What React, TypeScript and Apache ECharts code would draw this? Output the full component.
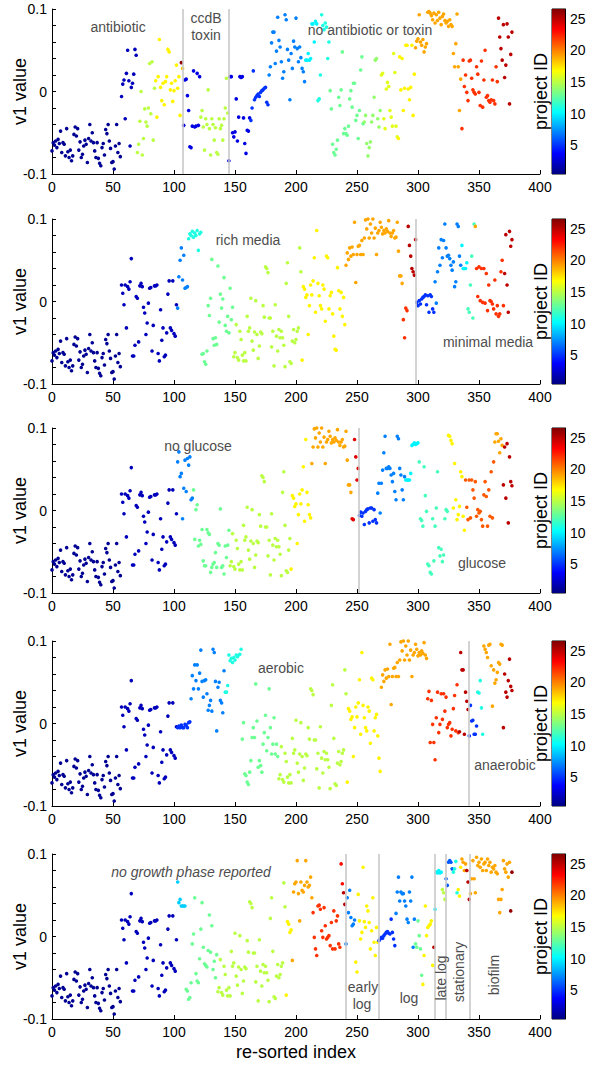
import React, { useEffect, useRef } from 'react';
import * as echarts from 'echarts';

// ---------- shared project samples (v1 values, in index order) ----------
const P1 = [-0.072,-0.062,-0.065,-0.060,-0.068,-0.058,-0.063,-0.048,-0.074,-0.062,-0.064,-0.078,-0.045,-0.073,-0.080,-0.071,-0.084,-0.078,-0.052,-0.043,-0.054,-0.045,-0.071,-0.061,-0.080,-0.076,-0.066,-0.059,-0.064,-0.086,-0.057,-0.040,-0.060,-0.050,-0.062,-0.072,-0.080,-0.062,-0.081,-0.087,-0.090,-0.068,-0.063,-0.077,-0.046,-0.051,-0.040,-0.060,-0.069,-0.086,-0.085,-0.094,-0.066,-0.040,-0.074,-0.063,-0.079];
const P2 = [0.020,0.010,-0.004,0.020,-0.032,0.018,0.015,0.024,0.052,-0.066,-0.066,-0.053,0.006,0.004,-0.049,0.019,0.022,0.018,-0.007,-0.014,-0.040,-0.026,-0.002,0.016,0.017,-0.060,-0.029,0.019,0.019,0.020,-0.063,-0.072,-0.010,-0.047,-0.032,-0.067,-0.065,-0.038,0.009,0.025,-0.032,-0.035,0.025,-0.039,-0.042,-0.004];
const G14 = [-0.067,-0.062,-0.028,-0.068,-0.071,-0.036,-0.046,-0.065,-0.072,-0.062,-0.072,-0.018,-0.036,-0.032,0.004,-0.048,-0.059,-0.037,0.001,-0.040,-0.069,-0.054,-0.037,-0.039,-0.005,-0.019,0.042,0.040,0.035,-0.020,-0.020,-0.055,-0.036,-0.078,-0.004,-0.042,-0.060,-0.034,-0.044,-0.036,-0.044,-0.053,-0.079,0.022,0.047,-0.018,-0.073,-0.075,-0.048,-0.034,-0.050,-0.046,-0.036,-0.032,0.065,0.036];
const Y16 = [-0.071,0.018,0.015,0.005,0.008,-0.040,-0.005,0.020,0.008,0.025,0.053,-0.013,0.086,0.022,0.007,-0.005,-0.009,0.020,0.015,-0.024,0.055,0.053,-0.009,0.007,0.011,-0.015,-0.042,-0.058,-0.059,0.041,0.013,-0.009,0.011,-0.018,0.005,-0.028,0.029,0.005,0.009,-0.028,0.059,-0.011,0.008,0.007,-0.030,-0.028];
const O19 = [0.044,0.059,0.051,0.065,0.055,0.066,0.057,0.096,0.023,0.057,0.067,0.068,0.057,0.074,0.057,0.077,0.099,0.088,0.100,0.077,0.094,0.083,0.100,0.077,0.089,0.057,0.083,0.086,0.096,0.090,0.082,0.086,0.083,0.088,0.085,0.098,0.083,0.079,0.083,0.086,0.077,0.078,0.096,0.061,0.031,0.031,0.022];

// ---------- panel 1: antibiotic / ccdB toxin / none ----------
const A2 = [-0.006,0.009,0.014,-0.033,0.022,0.050,0.013,-0.066,0.005,0.010,0.021,0.051,0.044];
const A14 = [-0.074,-0.064,-0.036,0.000,-0.077,-0.057,-0.021,-0.037,-0.042,-0.020,0.034,-0.027,0.036,-0.059,0.004];
const A16 = [0.013,-0.031,0.018,0.063,0.005,-0.011,0.010,-0.016,0.012,0.018,0.051,0.048,0.002,0.010,-0.012,0.001,0.013,0.032,0.004,0.018,-0.029];
const A26 = [0.035];
const A18 = [0.028];
const B3 = [-0.041,0.014,0.015,-0.005,-0.023,-0.067,-0.068,-0.042,0.025,-0.043,-0.042,0.022,-0.041,0.018];
const B15 = [-0.031,-0.023,-0.043,-0.071,-0.033,-0.040,0.002,-0.045,-0.077,-0.033,-0.040,-0.059,-0.044,-0.074,-0.076,-0.033,-0.045,-0.041,-0.059,-0.033,-0.020,0.016,-0.026];
const C3 = [-0.084,0.018,0.018,-0.050,-0.055,-0.049,-0.009,-0.060,-0.031,0.018,0.017,0.018,-0.032,-0.063,-0.075,-0.047,-0.048,-0.032];
const C4 = [-0.035,-0.020,0.025,-0.010,-0.007,-0.005,-0.003,-0.006,-0.001,0.001,0.002,0.004,0.005,-0.013,-0.016];
const C6 = [0.020,0.030,0.059,0.072,0.072,0.034,0.049,0.090,0.062,0.054,0.036,0.016,0.024,0.093,0.087,0.051,0.038,-0.010,0.046,0.028,0.061,0.054,0.089,0.052,0.036,0.054,0.041,0.028,0.024,0.012];
const C9 = [0.038,0.038,0.046,0.038,0.040,0.082,0.082,0.060,0.085,0.082];
const C11 = [-0.011,-0.009,0.020,0.093,0.080,0.075,0.083,0.078,0.040,0.060];
const C12 = [0.001,-0.021,-0.064,-0.074,-0.077,-0.070,-0.059,-0.007,-0.017,0.002,0.048,-0.051,-0.045,-0.051,-0.053,-0.042,-0.009,0.001,-0.019,0.010,0.010,-0.035,-0.029,-0.057,-0.023,0.026,0.042,-0.039];
const C14 = [-0.037,-0.029,-0.063,-0.078,-0.068,-0.061,-0.037,-0.029,-0.007,0.038,0.040,-0.033,-0.043,-0.023];
const C16 = [0.020,0.022,-0.033,-0.045,0.003,0.011,0.006,-0.023,-0.031,-0.042,0.046,0.023,-0.042,-0.055];
const C17 = [-0.057,0.042,0.002,0.040,-0.023,0.004,0.056,0.056,0.003,-0.010,0.005,0.056,-0.029,0.021];
const C19 = [0.053,0.061,0.064,0.093,0.060,0.056,0.063,0.048,0.054,0.058,0.096,0.097,0.095,0.092,0.087,0.095,0.083,0.093,0.086,0.096,0.089,0.081,0.091,0.094,0.086,0.083,0.085,0.079,0.087,0.081,0.079,0.046,0.030,0.058,0.094,0.030,-0.023,0.015];
const C21 = [-0.045,0.038,0.006,0.020,-0.001,-0.011,0.037,0.038,0.016,0.002,-0.001,-0.003,0.030,0.021,-0.001,-0.017,0.037,-0.019,0.014,0.050,-0.007,-0.005,-0.011,-0.013,-0.010,0.014,-0.011,-0.015,0.030,0.012];
const C25 = [0.089,0.066,0.052,0.038,0.081,0.017,0.032,0.082,0.066,-0.015,0.045,0.072];

// ---------- panel 2: rich / minimal media ----------
const R6 = [-0.008,0.030,0.050,0.065,0.026,0.056,0.016,0.017,0.018];
const R10 = [0.076,0.082,0.080,0.085,0.078,0.083,0.080,0.086,0.062,0.082,0.084];
const R12 = [-0.064,-0.063,-0.073,-0.076,-0.060,-0.005,-0.017,0.004,0.051,-0.045,-0.053,-0.044,-0.052,0.043,-0.025,0.009,-0.008,0.003,0.029,-0.029,-0.036,-0.018,-0.038,0.016,-0.022,-0.007];
const R22 = [-0.022,-0.044,-0.008,-0.011];
const R25 = [0.091,0.068,0.055,0.040,0.036,0.032,0.075];
const M4 = [-0.001,-0.005,0.001,-0.003,0.003,0.005,0.006,0.008,-0.004,0.007,-0.013,0.008,0.006,-0.009,-0.013];
const M6 = [0.024,-0.002,0.036,0.065,0.044,0.075,0.053,0.074,0.094,0.065,0.055,0.056,0.052,0.044,0.038,0.048,0.018,0.024,0.094,0.091,0.055,0.044];
const M9 = [0.068,0.040,0.040,0.040,0.047];
const M12 = [-0.009,-0.013,0.020,0.055,-0.020,0.094];
const M19 = [0.091];
const M21 = [0.040,0.006,0.042,0.001,0.040,-0.001,0.040,-0.002,0.034,-0.011,0.020,0.001,0.000,-0.003,-0.009,0.026,-0.015,-0.005,-0.018,-0.015,0.036,0.050,-0.005];
const M25 = [0.034,0.081,0.020,-0.013,0.085,0.067,0.075];

// ---------- panel 3: no glucose / glucose ----------
const N6 = [0.059,0.071,0.041,0.045,-0.010,0.027,0.061,0.023,0.063,0.055,0.065,0.013,0.015];
const N12 = [0.025,-0.035,0.001,0.007,-0.043,-0.036,-0.041,-0.023,-0.061,-0.067,-0.067,-0.023,-0.027,-0.029,-0.075,-0.069,-0.065,-0.063,-0.051,-0.069,-0.040,-0.042,0.002,-0.069,-0.067,-0.077,-0.043,-0.057,-0.042,-0.024];
const N24 = [-0.010,-0.011,0.086,0.065,0.037,0.051];
const Q4 = [-0.006,-0.002,-0.007,-0.003,-0.017,-0.001,0.001,0.002,-0.015,0.003,0.003,-0.013,0.001,-0.011,-0.015];
const Q6 = [0.021,0.033,-0.003,0.033,0.049,0.070,0.090,0.051,0.051,0.053,0.051,0.043,0.035,0.045,0.023,0.013,0.090,0.087,0.051,0.043,0.025,0.013,0.041];
const Q10 = [0.037,0.037,0.037,0.037,0.045,0.079,0.080,0.082,0.080,0.081,0.082];
const Q12 = [0.059,-0.010,-0.012,-0.019,0.053,0.018,-0.001,-0.065,-0.067,-0.075,-0.077,-0.010,-0.061,-0.019,0.003,0.047,-0.045,-0.055,-0.047,-0.062,-0.054,-0.010,0.001,-0.001];
const Q16 = [0.091,0.090,0.085,0.081,0.003,0.057,0.013,-0.011,-0.005,0.005,0.047,0.041,-0.007,-0.024];
const Q21 = [0.037,0.004,-0.011,0.037,-0.009,0.037,0.025,0.015,0.035,-0.007,0.001,-0.003,-0.001,-0.011,-0.019,0.019,0.035,0.017,-0.019,0.025,-0.007,0.047,-0.009,0.059];
const Q19 = [0.083,0.093,0.093,0.084,0.070,0.087,0.079];
const Q25 = [0.031,0.077,0.015,0.081,-0.015,0.065,0.035,0.030];

// ---------- panel 4: aerobic / anaerobic ----------
const E4 = [-0.005,-0.003,-0.005,-0.002,-0.005,-0.005,-0.001,-0.002,-0.005,0.001,0.002];
const E6 = [0.030,0.058,0.042,0.071,0.052,0.071,0.042,0.061,0.089,0.051,0.032,0.052,0.053,0.036,0.016,0.022,0.028,0.015,0.090,0.086,0.051,-0.009,0.044,0.050,0.028,0.025,0.013,0.064];
const E10 = [0.038,0.038,0.046,0.083,0.076,0.079,0.074,0.080,0.077,0.083,0.081,0.083,0.084,0.090];
const E12 = [-0.019,0.001,-0.061,-0.063,-0.071,-0.074,-0.059,-0.045,-0.017,-0.005,-0.017,0.048,0.003,-0.053,-0.045,-0.051,-0.059,-0.025,-0.011,0.010,-0.033,-0.017,0.042,-0.005,-0.037,-0.025,0.007,-0.037,-0.025,-0.040];
const E21 = [0.030,0.039,-0.023,0.028,-0.001,-0.023,-0.044,0.007,0.038,-0.011,-0.001,0.036,0.005,0.036,0.015,0.032,-0.005,-0.001,0.001,-0.015,-0.007,0.018,0.034,-0.009,0.047,-0.011];
const E25 = [-0.010,0.086,0.065,0.065,-0.013,0.038,0.027,0.017];
const F4 = [-0.015,0.022,0.003,0.004,-0.013,-0.013,-0.003];
const F10 = [0.038,0.037,0.052,0.019,-0.013];
const F19 = [0.094,0.090,0.086,0.080,0.095,0.096,0.070,0.021,0.065,0.049,0.053,0.062,0.074,0.072,0.096,0.095];
const F25 = [-0.005,0.060,0.038,0.032,0.052,0.078,0.045,0.040];

// ---------- panel 5: growth phase ----------
const H9 = [0.066,0.041,0.045,0.037,0.037,0.037,0.037];
const H12 = [-0.064,-0.066,-0.076,-0.074,-0.056,-0.009,0.003,0.047,-0.045,-0.054,-0.056,-0.027,0.009,0.041,-0.013,-0.033,-0.035,-0.037,-0.017,0.026,-0.019,0.013,-0.040,-0.030,-0.050,-0.022];
const H19 = [-0.029,0.054,0.064,0.066,0.092,0.052,0.019,0.066,0.056,0.054,0.062,0.092,0.066,0.060,0.062,0.072,0.047];
const H21 = [0.029,-0.001,-0.015,-0.023,0.037,0.038,0.033,0.007,-0.001,0.035,0.013,-0.003,-0.001,0.001,-0.011,0.017,-0.015,0.031,-0.015,0.019,0.025,-0.009,-0.013];
const H23 = [0.088,0.064];
const H25 = [0.053,0.039];
const K6 = [-0.009,0.047,0.029,0.056,0.023,0.013,0.015,0.020];
const K16 = [-0.031,-0.043,0.051,0.019,-0.003,0.005,0.084,0.018,0.011,0.037,0.031,0.017,-0.015,0.007,0.047,-0.007,-0.023,0.011,-0.007];
const L4 = [-0.005,-0.003,-0.001,-0.002,0.001,0.003,0.005,0.006,0.004,0.003,0.021,0.005,-0.003,-0.011];
const L6 = [0.028,0.054,0.072,0.043,0.054,0.052,0.052,0.043,0.037,0.021,0.017,0.054,0.043,0.072,-0.013,0.021];
const L13 = [-0.009,-0.013,0.019,0.001,-0.015,-0.047];
const L16 = [-0.058,-0.023,0.037,0.001,0.011,0.013,0.015,0.019,-0.035];
const L25 = [-0.013];
const J10 = [0.033,0.078,0.077,0.080,0.077,0.078];
const J15 = [0.057,0.053,0.045];
const S6 = [0.070,0.062,0.090,0.092,0.090,0.082];
const S10 = [0.078,0.082,0.091,0.053];
const S16 = [0.057,0.049,0.084];
const S19 = [0.094,0.090,0.080,0.088];
const S25 = [0.080,0.066,0.045];
const BF19 = [0.052,0.070,0.092,0.070,0.053,0.096,0.086,0.090,0.084,0.094,0.080,0.088,0.090,0.080,0.094,0.086,0.090,0.078,0.084,0.082,0.086,0.078,0.076,0.045,0.029,0.045,0.057,0.092,0.082,0.078,0.088,0.072,0.090];
const BF26 = [0.031,0.078];

// segments: [project ID, samples]
type Seg = [number, number[]];
const PANEL_SEGS: Seg[][] = [
  [[1,P1],[2,A2],[15,A14],[17,A16],[26,A26],[18,A18],[3,B3],[15,B15],[3,C3],[5,C4],[7,C6],[10,C9],[11,C11],[13,C12],[14,C14],[16,C16],[17,C17],[19,C19],[22,C21],[25,C25]],
  [[1,P1],[2,P2],[7,R6],[11,R10],[13,R12],[15,G14],[17,Y16.slice(0,36)],[19,O19],[22,R22],[25,R25],[5,M4],[7,M6],[10,M9],[12,M12],[19,M19],[22,M21],[25,M25]],
  [[1,P1],[2,P2],[7,N6],[13,N12],[15,G14.slice(0,50)],[17,Y16.slice(0,17)],[19,O19.slice(14)],[24,N24],[5,Q4],[7,Q6],[10,Q10],[12,Q12],[17,Q16],[21,Q21],[19,Q19],[25,Q25]],
  [[1,P1],[2,P2],[5,E4],[7,E6],[11,E10],[13,E12],[15,G14],[17,Y16.slice(0,28)],[19,O19.slice(0,38)],[22,E21],[25,E25],[5,F4],[11,F10],[19,F19],[25,F25]],
  [[1,P1],[2,P2],[9,H9],[13,H12],[15,G14],[17,Y16.slice(0,5)],[19,H19],[22,H21],[23,H23],[25,H25],[7,K6],[17,K16],[5,L4],[7,L6],[13,L13],[17,L16],[25,L25],[10,J10],[15,J15],[6,S6],[11,S10],[17,S16],[19,S19],[25,S25],[19,BF19],[26,BF26]],
];

const DIVIDERS: number[][] = [
  [107.5, 144.5],
  [298.5],
  [251.5],
  [341.5],
  [240.5, 267.5, 313.5, 322.5, 342.5],
];

const CB_TICKS = [5, 10, 15, 20, 25];
const JET = ['#000080','#0000ff','#0080ff','#00ffff','#80ff80','#ffff00','#ff8000','#ff0000','#800000'];

const PANEL_TOPS = [9, 219, 428, 641, 854];
const PANEL_H = 165;
const FONT = "'Liberation Sans', Arial, Helvetica, sans-serif";

type Ann = { t: string; x: number; y: number; rot?: boolean; italic?: boolean };
const ANNOTATIONS: Ann[] = [
  { t: 'antibiotic', x: 118, y: 27 },
  { t: 'ccdB', x: 206, y: 18 },
  { t: 'toxin', x: 206, y: 35 },
  { t: 'no antibiotic or toxin', x: 370, y: 30 },
  { t: 'rich media', x: 248, y: 240 },
  { t: 'minimal media', x: 488, y: 342 },
  { t: 'no glucose', x: 198, y: 446 },
  { t: 'glucose', x: 482, y: 563 },
  { t: 'aerobic', x: 281, y: 668 },
  { t: 'anaerobic', x: 505, y: 765 },
  { t: 'no growth phase reported', x: 191, y: 872, italic: true },
  { t: 'early', x: 363, y: 987 },
  { t: 'log', x: 362, y: 1004 },
  { t: 'log', x: 409, y: 998 },
  { t: 'late log', x: 441, y: 978, rot: true },
  { t: 'stationary', x: 459, y: 972, rot: true },
  { t: 'biofilm', x: 494, y: 975, rot: true },
];

function buildData(segs: Seg[]) {
  const out: number[][] = [];
  let i = 0;
  for (const [id, vals] of segs) {
    for (const v of vals) {
      out.push([i, v, id]);
      i++;
    }
  }
  return out;
}

export default function App() {
  const ref = useRef<HTMLDivElement>(null);
  useEffect(() => {
    if (!ref.current) return;
    const chart = echarts.init(ref.current, undefined, { renderer: 'svg' });
    const grids: any[] = [];
    const xAxes: any[] = [];
    const yAxes: any[] = [];
    const scatter: any[] = [];
    const bars: any[] = [];
    const graphics: any[] = [];

    PANEL_TOPS.forEach((top, p) => {
      grids.push({ left: 52, width: 488, top, height: PANEL_H, outerBoundsMode: 'none' });
      xAxes.push({
        gridIndex: p, type: 'value', min: 0, max: 400, interval: 50,
        axisLine: { onZero: false, lineStyle: { color: '#000', width: 1 } },
        axisTick: { inside: true, length: 4, lineStyle: { color: '#000' } },
        axisLabel: { color: '#000', fontSize: 14, margin: 6, fontFamily: FONT },
        splitLine: { show: false },
        name: p === 4 ? 're-sorted index' : '',
        nameLocation: 'middle', nameGap: 24, nameMoveOverlap: false,
        nameTextStyle: { color: '#000', fontSize: 18, fontFamily: FONT },
      });
      yAxes.push({
        gridIndex: p, type: 'value', min: -0.1, max: 0.1, interval: 0.02,
        axisLine: { show: true, onZero: false, lineStyle: { color: '#000', width: 1 } },
        axisTick: { show: true, inside: true, length: 4, lineStyle: { color: '#000' } },
        axisLabel: {
          color: '#000', fontSize: 14, margin: 5, fontFamily: FONT,
          formatter: (v: number) => {
            if (Math.abs(v) < 1e-9) return '0';
            if (Math.abs(v - 0.1) < 1e-9) return '0.1';
            if (Math.abs(v + 0.1) < 1e-9) return '-0.1';
            return '';
          },
        },
        splitLine: { show: false },
        name: 'v1 value', nameLocation: 'middle', nameGap: 23, nameRotate: 90, nameMoveOverlap: false,
        nameTextStyle: { color: '#000', fontSize: 18, fontFamily: FONT },
      });
      scatter.push({
        type: 'scatter', xAxisIndex: p, yAxisIndex: p,
        symbolSize: 3.6, data: buildData(PANEL_SEGS[p]),
        itemStyle: { opacity: 1 },
        markLine: {
          silent: true, symbol: 'none', label: { show: false },
          lineStyle: { color: '#c8c8c8', width: 1.6, type: 'solid' },
          data: DIVIDERS[p].map((x) => ({ xAxis: x })),
        },
        z: 3,
      });
      graphics.push({
        type: 'text', x: 541, y: top + PANEL_H / 2, rotation: Math.PI / 2,
        style: { text: 'project ID', fill: '#000', fontSize: 18, fontFamily: FONT, align: 'center', verticalAlign: 'middle' },
      });
    });

    PANEL_TOPS.forEach((top, p) => {
      const gi = 5 + p;
      grids.push({ left: 552, width: 13, top, height: PANEL_H, show: true, borderColor: '#000', borderWidth: 1, backgroundColor: 'transparent', outerBoundsMode: 'none' });
      xAxes.push({ gridIndex: gi, type: 'category', data: ['c'], show: false });
      yAxes.push({
        gridIndex: gi, type: 'value', min: 0.5, max: 26.5, position: 'right',
        axisLine: { show: true, lineStyle: { color: '#000' } },
        axisTick: { show: true, inside: true, length: 3, customValues: CB_TICKS, lineStyle: { color: '#000' } },
        axisLabel: { show: true, color: '#000', fontSize: 14, margin: 5, customValues: CB_TICKS, fontFamily: FONT },
        splitLine: { show: false },
      });
      bars.push({
        type: 'bar', xAxisIndex: gi, yAxisIndex: gi, stack: 'cb' + p, barWidth: '100%',
        data: [0.5], itemStyle: { color: 'rgba(0,0,0,0)' }, silent: true,
      });
      bars.push({
        type: 'bar', xAxisIndex: gi, yAxisIndex: gi, stack: 'cb' + p, barWidth: '100%',
        data: [26], silent: true,
        itemStyle: {
          color: new echarts.graphic.LinearGradient(0, 1, 0, 0,
            JET.map((c, k) => ({ offset: k / (JET.length - 1), color: c }))),
        },
      });
    });

    ANNOTATIONS.forEach((a) => {
      graphics.push({
        type: 'text', x: a.x, y: a.y, rotation: a.rot ? Math.PI / 2 : 0,
        style: {
          text: a.t, fill: '#4d4d4d', fontSize: 14, fontFamily: FONT,
          fontStyle: a.italic ? 'italic' : 'normal',
          align: 'center', verticalAlign: 'middle',
        },
        z: 10,
      });
    });

    chart.setOption({
      animation: false,
      textStyle: { fontFamily: FONT },
      grid: grids,
      xAxis: xAxes,
      yAxis: yAxes,
      visualMap: {
        type: 'continuous', show: false, dimension: 2, min: 0.5, max: 26.5,
        seriesIndex: [0, 1, 2, 3, 4],
        inRange: { color: JET },
      },
      series: [...scatter, ...bars],
      graphic: graphics,
    });
    return () => chart.dispose();
  }, []);
  return (
    <div
      ref={ref}
      style={{ position: 'absolute', left: 0, top: 0, width: 600, height: 1066, background: '#fff' }}
    />
  );
}
